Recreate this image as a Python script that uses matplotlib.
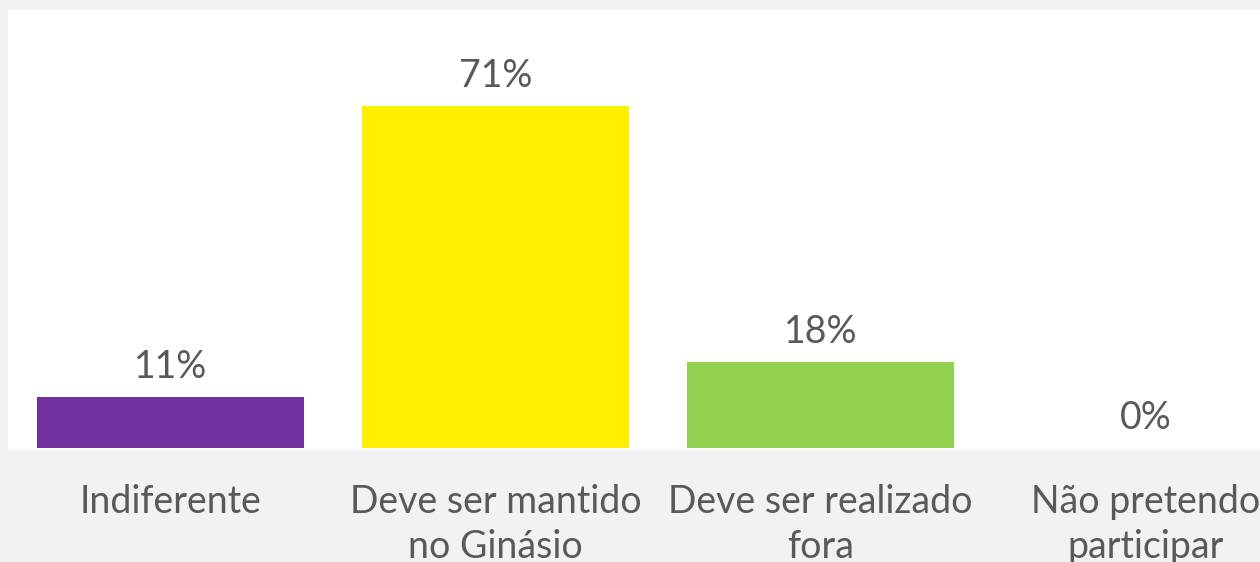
import matplotlib
matplotlib.use("Agg")
import matplotlib.pyplot as plt
from matplotlib.patches import Rectangle

categories = ["Indiferente", "Deve ser mantido\nno Ginásio", "Deve ser realizado\nfora", "Não pretendo\nparticipar"]
values = [10.71, 71.43, 17.86, 0.0]
labels = ["11%", "71%", "18%", "0%"]
colors = ["#7030A0", "#FFF000", "#92D050", "#A5A5A5"]

W, H = 1260, 562
fig = plt.figure(figsize=(W / 100, H / 100), dpi=100)
fig.patch.set_facecolor("#F2F2F2")
# white plot area
fig.add_artist(Rectangle((8 / W, (H - 450) / H), (W - 8) / W, (450 - 10) / H,
                         transform=fig.transFigure, facecolor="white", edgecolor="none", zorder=0))

ax = fig.add_axes([8 / W, (H - 448) / H, 1300 / W, (448 - 10) / H])
ax.set_facecolor("none")
ax.bar(range(len(values)), values, width=0.82, color=colors, zorder=2)
ax.set_xlim(-0.5, 3.5)
ax.set_ylim(0, 91.4)
for s in ax.spines.values():
    s.set_visible(False)
ax.set_yticks([])
ax.set_xticks(range(len(categories)))
ax.set_xticklabels(categories, fontsize=27, color="#595959", family="Lato", linespacing=1.32)
ax.tick_params(axis="x", length=0, pad=26)

for i, (v, lab) in enumerate(zip(values, labels)):
    ax.annotate(lab, (i, v), xytext=(0, 13.7), textcoords="offset points",
                ha="center", va="baseline", fontsize=27, color="#595959", family="Lato")

fig.savefig("out.png", dpi=100, facecolor=fig.get_facecolor())
